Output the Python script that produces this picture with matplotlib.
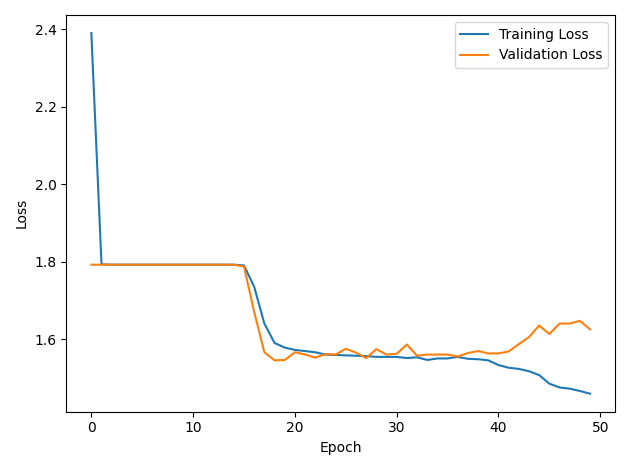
import matplotlib
matplotlib.use("Agg")
import matplotlib.pyplot as plt

train_loss = [2.39, 1.793] + [1.792]*13 + [1.790, 1.735, 1.64, 1.59, 1.578, 1.572, 1.569, 1.566, 1.560, 1.559,
    1.558, 1.557, 1.556, 1.554, 1.554, 1.554, 1.551, 1.553, 1.546, 1.550, 1.550, 1.554, 1.549, 1.548, 1.545,
    1.533, 1.526, 1.523, 1.517, 1.507, 1.485, 1.475, 1.472, 1.466, 1.459]
val_loss = [1.792]*15 + [1.787, 1.67, 1.566, 1.545, 1.546, 1.566, 1.560, 1.552, 1.561, 1.560, 1.575, 1.565,
    1.551, 1.574, 1.560, 1.562, 1.586, 1.557, 1.560, 1.560, 1.560, 1.555, 1.564, 1.569, 1.563, 1.563, 1.568,
    1.587, 1.605, 1.635, 1.613, 1.640, 1.640, 1.647, 1.625]
epochs = list(range(len(train_loss)))

fig, ax = plt.subplots(figsize=(6.3, 4.7), dpi=100)
ax.plot(epochs, train_loss, label="Training Loss")
ax.plot(epochs, val_loss, label="Validation Loss")
ax.set_xlabel("Epoch")
ax.set_ylabel("Loss")
ax.legend()
fig.tight_layout()
fig.savefig("out.png")
